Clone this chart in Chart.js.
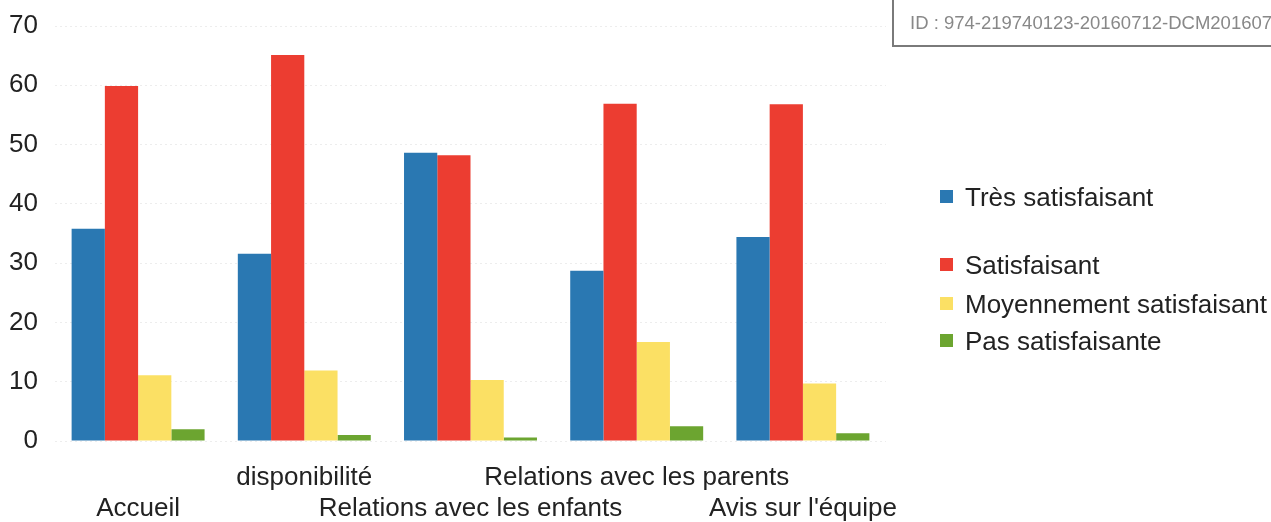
<!DOCTYPE html>
<html>
<head>
<meta charset="utf-8">
<script src="https://cdn.jsdelivr.net/npm/chart.js@4"></script>
<style>
  body { margin: 0; background: #fff; }
  #wrap { position: relative; width: 1271px; height: 522px; overflow: hidden; font-family: "Liberation Sans", Arial, sans-serif; }
  #idBox { position: absolute; left: 892px; top: -10px; width: 420px; height: 57px; border: 2px solid #7a7a7a; box-sizing: border-box; }
  #idBox span { position: absolute; left: 16px; top: 20px; font-size: 18.5px; color: #888; white-space: nowrap; }
  .leg { position: absolute; left: 940px; font-size: 26px; color: #222; white-space: nowrap; line-height: 30px; }
  .leg i { display: inline-block; width: 13px; height: 13px; margin-right: 12px; vertical-align: 3px; }
</style>
</head>
<body>
<div id="wrap">
  <canvas id="chart" width="1271" height="522"></canvas>
  <div id="idBox"><span>ID : 974-219740123-20160712-DCM201607</span></div>
</div>
<script>
const categories = [
    ["", "Accueil"],
    ["disponibilité", ""],
    ["", "Relations avec les enfants"],
    ["Relations avec les parents", ""],
    ["", "Avis sur l'équipe"]
];
const seriesNames = ["Très satisfaisant", "Satisfaisant", "Moyennement satisfaisant", "Pas satisfaisante"];
const tresSatisfaisant = [35.8, 31.6, 48.6, 28.7, 34.4];
const satisfaisant = [59.9, 65.1, 48.2, 56.9, 56.8];
const moyennement = [11.1, 11.9, 10.3, 16.7, 9.7];
const pasSatisfaisante = [2.0, 1.0, 0.6, 2.5, 1.3];
const yTicks = [0, 10, 20, 30, 40, 50, 60, 70];

const colors = ["#2a78b2", "#ec3d31", "#fbe064", "#6ca530"];
const legendY = [182, 250, 289, 326];
const allSeries = [tresSatisfaisant, satisfaisant, moyennement, pasSatisfaisante];

const FONT = "'Liberation Sans', Arial, sans-serif";

new Chart(document.getElementById("chart"), {
    type: "bar",
    data: {
        labels: categories,
        datasets: allSeries.map((values, i) => ({
            label: seriesNames[i],
            data: values,
            backgroundColor: colors[i],
            borderWidth: 0
        }))
    },
    options: {
        responsive: false,
        animation: false,
        layout: { padding: { left: 0, right: 385, top: 0, bottom: 0 } },
        datasets: { bar: { categoryPercentage: 0.8, barPercentage: 1.0 } },
        plugins: { legend: { display: false }, tooltip: { enabled: false } },
        scales: {
            x: {
                grid: { display: false },
                border: { display: false },
                afterFit: (axis) => { axis.height = 81; },
                ticks: {
                    autoSkip: false,
                    maxRotation: 0,
                    padding: 13,
                    color: "#222",
                    font: { family: FONT, size: 26, lineHeight: 1.2 }
                }
            },
            y: {
                min: 0,
                max: 70,
                afterBuildTicks: (axis) => { axis.ticks = yTicks.map(v => ({ value: v })); },
                afterFit: (axis) => {
                    axis.width = 55;
                    axis.paddingTop = 26;
                    axis.paddingBottom = 0;
                },
                grid: { color: "rgba(0,0,0,0.07)", drawTicks: false, lineWidth: 1 },
                border: { display: false, dash: [2, 3] },
                ticks: {
                    padding: 17,
                    color: "#222",
                    font: { family: FONT, size: 26 }
                }
            }
        }
    }
});

const wrap = document.getElementById("wrap");
seriesNames.forEach((name, i) => {
    const el = document.createElement("div");
    el.className = "leg";
    el.style.top = legendY[i] + "px";
    el.innerHTML = '<i style="background:' + colors[i] + '"></i>';
    el.appendChild(document.createTextNode(name));
    wrap.appendChild(el);
});
</script>
</body>
</html>
